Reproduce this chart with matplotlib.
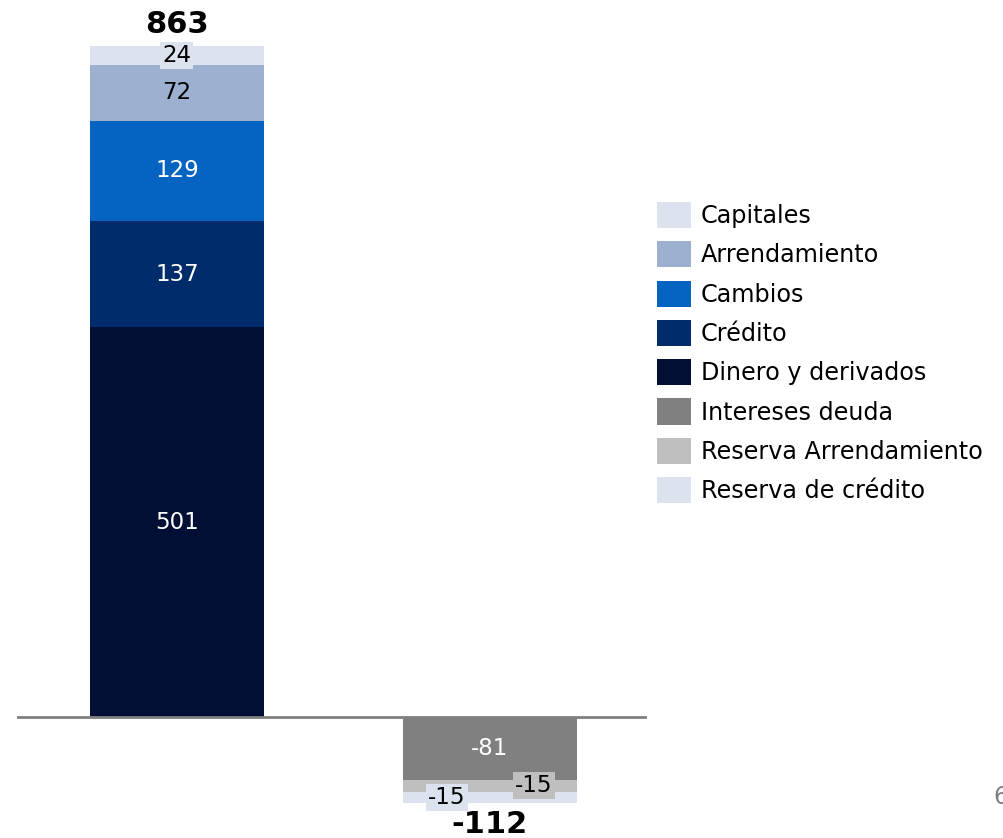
import matplotlib.pyplot as plt
from matplotlib.patches import Patch

# segments, bottom to top
series = ["Dinero y derivados", "Crédito", "Cambios", "Arrendamiento", "Capitales",
          "Intereses deuda", "Reserva Arrendamiento", "Reserva de crédito"]
values = [[501, 0], [137, 0], [129, 0], [72, 0], [24, 0],
          [0, -81], [0, -15], [0, -15]]
colors = ["#000F33", "#002C6B", "#0563C1", "#9DB0CF", "#DCE3EE",
          "#808080", "#BFBFBF", "#DCE3EE"]
totals = [863, -112]
legend_order = ["Capitales", "Arrendamiento", "Cambios", "Crédito", "Dinero y derivados",
                "Intereses deuda", "Reserva Arrendamiento", "Reserva de crédito"]

plt.rcParams['font.family'] = ['DejaVu Sans']

fig = plt.figure(figsize=(10.04, 8.38), dpi=100)
ax = fig.add_axes([17 / 1004, 0, (647 - 17) / 1004, 1])
ax.set_xlim(-0.511, 1.502)
ax.set_ylim(-155.6, 922)
ax.axis('off')

x = [0, 1]
width = 0.556
pos_base = [0, 0]
neg_base = [0, 0]
light = {"Capitales", "Arrendamiento", "Reserva Arrendamiento", "Reserva de crédito"}
boxed = {"Capitales", "Reserva Arrendamiento", "Reserva de crédito"}
# small horizontal nudge for the thin negative segments
nudge = {"Reserva Arrendamiento": 0.14, "Reserva de crédito": -0.137}

for name, vals, col in zip(series, values, colors):
    for i, v in enumerate(vals):
        if v == 0:
            continue
        if v > 0:
            bottom = pos_base[i]
            pos_base[i] += v
        else:
            bottom = neg_base[i]
            neg_base[i] += v
        ax.bar(x[i], v, width, bottom=bottom, color=col, linewidth=0)
        tc = "black" if name in light else "white"
        bbox = None
        if name in boxed:
            bbox = dict(facecolor=col, edgecolor="none", pad=1.5)
        ax.text(x[i] + nudge.get(name, 0), bottom + v / 2, str(v), ha="center", va="center",
                fontsize=16.5, color=tc, bbox=bbox)

ax.axhline(0, color="#808080", linewidth=2)

for i, t in enumerate(totals):
    if t > 0:
        ax.annotate(str(t), (x[i], pos_base[i]), xytext=(0, 5), textcoords="offset points",
                    ha="center", va="bottom", fontsize=22, fontweight="bold")
    else:
        ax.annotate(str(t), (x[i], neg_base[i]), xytext=(0, -4.5), textcoords="offset points",
                    ha="center", va="top", fontsize=22, fontweight="bold")

handles = [Patch(facecolor=colors[series.index(n)], edgecolor="none") for n in legend_order]
fig.legend(handles, legend_order, loc="upper left", bbox_to_anchor=(657 / 1004, 1 - 202 / 838),
           frameon=False, fontsize=17.2, handlelength=1.42, handleheight=1.3,
           handletextpad=0.42, labelspacing=0.555, borderpad=0, borderaxespad=0)

fig.text(993 / 1004, 1 - 797 / 838, "6", fontsize=17, color="#7F7F7F", ha="left", va="center")

fig.savefig("out.png", dpi=100)
